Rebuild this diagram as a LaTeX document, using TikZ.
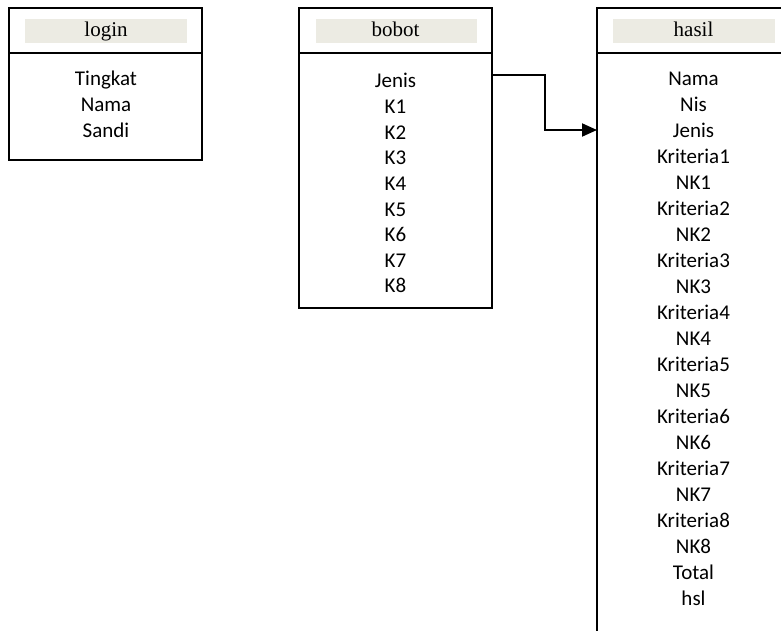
\documentclass[tikz,border=0pt]{standalone}
\usepackage{fontspec}
\setmainfont{Liberation Serif}
\newfontfamily\fieldfont{Carlito}
\usepackage{tikz}
\usetikzlibrary{arrows.meta}

\definecolor{headgray}{RGB}{236,235,227}

\tikzset{
  tbl/.style={draw=black, line width=2pt},
  headfill/.style={fill=headgray},
  headtext/.style={anchor=base, inner sep=0pt, font=\fontsize{21}{25}\selectfont},
  field/.style={anchor=base, inner sep=0pt, font=\fieldfont\fontsize{21}{25}\selectfont},
  link/.style={draw=black, line width=2pt, -{Triangle[length=15pt,width=13pt]}}
}

\begin{document}
\begin{tikzpicture}[x=1pt,y=-1pt]

  \useasboundingbox (0,0) rectangle (781,631);
  \clip (0,0) rectangle (781,631);

  % login
  \draw[tbl] (9,8) rectangle (202,160);
  \draw[tbl] (9,53) -- (202,53);
  \fill[headfill] (25,19) rectangle (187,43);
  \node[headtext] (loginHead) at (106,37) {login};
  \foreach \f [count=\i from 0] in {Tingkat,Nama,Sandi}
    \node[field] (login\i) at (106,86+26*\i) {\f};

  % bobot
  \draw[tbl] (299,8) rectangle (492,308);
  \draw[tbl] (299,53) -- (492,53);
  \fill[headfill] (316,19) rectangle (477,43);
  \node[headtext] (bobotHead) at (395.5,37) {bobot};
  \foreach \f [count=\i from 0] in {Jenis,K1,K2,K3,K4,K5,K6,K7,K8}
    \node[field] (bobot\i) at (395.5,88+25.6*\i) {\f};

  % hasil
  \draw[tbl] (597,8) rectangle (790,660);
  \draw[tbl] (597,53) -- (790,53);
  \fill[headfill] (613,19) rectangle (775,43);
  \node[headtext] (hasilHead) at (693.5,37) {hasil};
  \foreach \f [count=\i from 0] in {Nama,Nis,Jenis,Kriteria1,NK1,Kriteria2,NK2,
      Kriteria3,NK3,Kriteria4,NK4,Kriteria5,NK5,Kriteria6,NK6,Kriteria7,NK7,
      Kriteria8,NK8,Total,hsl}
    \node[field] (hasil\i) at (693.5,86+25.95*\i) {\f};

  % relasi Jenis
  \coordinate (bobotOut) at (492,75);
  \coordinate (hasilIn) at (597,130);
  \draw[link] (bobotOut) -- (545,75) |- (hasilIn);

\end{tikzpicture}
\end{document}
